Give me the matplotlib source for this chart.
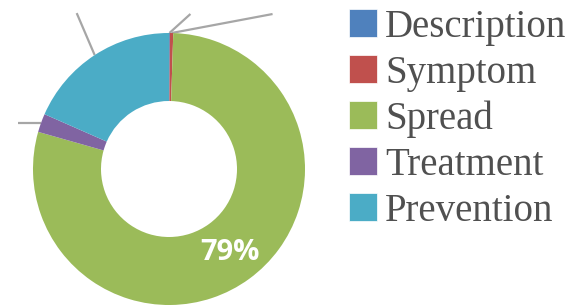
import numpy as np
import matplotlib
matplotlib.use("Agg")
import matplotlib.pyplot as plt
from matplotlib.patches import Rectangle

# datos del grafico (porcentajes)
categorias = ["Description", "Symptom", "Spread", "Treatment", "Prevention"]
valores = [0.1, 0.4, 78.9, 2.2, 18.4]
colores = ["#4F81BD", "#C0504D", "#9BBB59", "#8064A2", "#4BACC6"]

# lineas guia (los rotulos quedan fuera del recorte), desplazamiento en px
guias = {"Description": (21, 19), "Symptom": (101, 19),
         "Treatment": (-23, 0), "Prevention": (-18, 42)}

W, H = 571, 305
CX, CY, R = 169, 169, 136  # centro y radio en pixeles


def crear_grafica():
    fig = plt.figure(figsize=(W / 100, H / 100), dpi=100)
    ax = fig.add_axes([0, 0, 1, 1])

    wedges, _, autotexts = ax.pie(
        valores, colors=colores, startangle=90, counterclock=False,
        radius=1, wedgeprops=dict(width=0.5, linewidth=0),
        autopct=lambda p: f"{p:.0f}%" if p > 50 else "", pctdistance=0.76)
    for t in autotexts:
        t.set_color("white")
        t.set_fontsize(21)
        t.set_fontweight("bold")
        t.set_fontfamily("Open Sans")

    # pie() cambia los limites, se fijan despues
    ax.set_xlim(-CX / R, (W - CX) / R)
    ax.set_ylim(-(H - CY) / R, CY / R)
    ax.set_aspect("equal")
    ax.axis("off")

    # lineas guia desde el borde de cada sector
    for w, nombre in zip(wedges, categorias):
        if nombre not in guias:
            continue
        ang = np.deg2rad((w.theta1 + w.theta2) / 2)
        x0, y0 = np.cos(ang), np.sin(ang)
        dx, dy = guias[nombre]
        ax.plot([x0, x0 + dx / R], [y0, y0 + dy / R],
                color="#A6A6A6", lw=1.6, solid_capstyle="butt", zorder=0)

    # leyenda manual
    for i, (nombre, c) in enumerate(zip(categorias, colores)):
        yc = 23 + 46 * i
        fig.patches.append(Rectangle((349 / W, 1 - (yc + 14) / H), 28 / W, 28 / H,
                                     transform=fig.transFigure, facecolor=c,
                                     edgecolor="white", linewidth=0.5))
        fig.text(385 / W, 1 - (yc + 14) / H, nombre, fontsize=28,
                 family="Liberation Serif", color="#505050", va="baseline")

    fig.savefig("out.png", dpi=100)


def main():
    crear_grafica()


if __name__ == "__main__":
    main()
